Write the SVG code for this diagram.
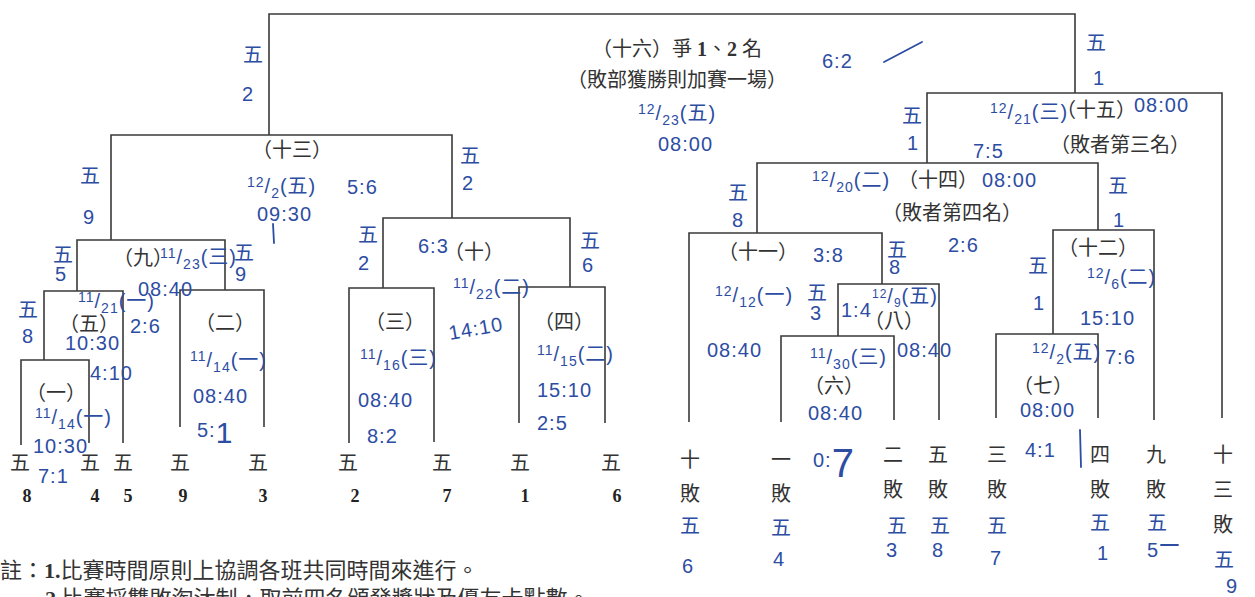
<svg xmlns="http://www.w3.org/2000/svg" width="1255" height="597" viewBox="0 0 1255 597">
<style>
.ln{fill:none;stroke:#3a3a3a;stroke-width:1.6}
.pt{font-family:"Liberation Serif","Noto Sans CJK TC",serif;font-size:20px;fill:#333}
.c{text-anchor:middle}
.num{font-family:"Liberation Serif",serif;font-weight:bold;font-size:18px;fill:#222;text-anchor:middle}
.hw{font-family:"Liberation Sans","Noto Sans CJK TC",sans-serif;fill:#2d4da3;font-size:20px;letter-spacing:1px}
.n{font-size:14px}
.hs{fill:none;stroke:#2d4da3;stroke-width:1.8;stroke-linecap:round}
.note{font-family:"Liberation Serif","Noto Sans CJK TC",serif;font-size:22px;fill:#333}
</style>
<rect width="1255" height="597" fill="#fff"/>

<g id="connectors">
<path class="ln" d="M269,135V14H1075V93"/>
<path class="ln" d="M111,240V135H452V218"/>
<path class="ln" d="M77,291V240H225V290"/>
<path class="ln" d="M44,360V291H123V443"/>
<path class="ln" d="M21,445V360H89V443"/>
<path class="ln" d="M180,427V290H264V427"/>
<path class="ln" d="M383,288V218H570V287"/>
<path class="ln" d="M349,443V288H434V442"/>
<path class="ln" d="M519,423V287H605V423"/>
<path class="ln" d="M927,163V93H1222V418"/>
<path class="ln" d="M757,233V163H1098V230"/>
<path class="ln" d="M689,422V233H882V284"/>
<path class="ln" d="M838,336V284H939V420"/>
<path class="ln" d="M781,422V336H894V420"/>
<path class="ln" d="M1053,334V230H1154V420"/>
<path class="ln" d="M996,418V334H1098V418"/>
</g>

<g id="m16">
<text class="pt c" x="677" y="56">（十六）爭 <tspan font-family="Liberation Serif" font-weight="bold">1</tspan>、<tspan font-family="Liberation Serif" font-weight="bold">2</tspan> 名</text>
<text class="pt c" x="677" y="87">（敗部獲勝則加賽一場）</text>
<text class="hw" x="638" y="120"><tspan class="n" dy="-6">12</tspan><tspan dy="6">/</tspan><tspan class="n" dy="5">23</tspan><tspan dy="-5">(五)</tspan></text>
<text class="hw" x="658" y="151">08:00</text>
<text class="hw" x="822" y="68" font-size="30">6:2</text>
<path class="hs" d="M884,62L922,42"/>
<text class="hw" x="243" y="62" font-size="22">五</text>
<text class="hw" x="242" y="101" font-size="22">2</text>
<text class="hw" x="1086" y="50" font-size="24">五</text>
<text class="hw" x="1093" y="85" font-size="24">1</text>
</g>

<g id="m15">
<text class="pt c" x="1096" y="117">（十五）</text>
<text class="pt c" x="1120" y="152">（敗者第三名）</text>
<text class="hw" x="990" y="119" font-size="18"><tspan class="n" dy="-6">12</tspan><tspan dy="6">/</tspan><tspan class="n" dy="5">21</tspan><tspan dy="-5">(三)</tspan></text>
<text class="hw" x="1134" y="112">08:00</text>
<text class="hw" x="973" y="158" font-size="24">7:5</text>
<text class="hw" x="902" y="123" font-size="22">五</text>
<text class="hw" x="907" y="150" font-size="22">1</text>
</g>

<g id="m14">
<text class="pt c" x="938" y="187">（十四）</text>
<text class="pt c" x="952" y="220">（敗者第四名）</text>
<text class="hw" x="812" y="187"><tspan class="n" dy="-6">12</tspan><tspan dy="6">/</tspan><tspan class="n" dy="5">20</tspan><tspan dy="-5">(二)</tspan></text>
<text class="hw" x="982" y="187" font-size="22">08:00</text>
<text class="hw" x="948" y="252" font-size="24">2:6</text>
<text class="hw" x="728" y="200" font-size="22">五</text>
<text class="hw" x="732" y="227" font-size="24">8</text>
<text class="hw" x="1108" y="193" font-size="22">五</text>
<text class="hw" x="1113" y="227" font-size="22">1</text>
</g>

<g id="m13">
<text class="pt c" x="292" y="157">（十三）</text>
<text class="hw" x="247" y="193"><tspan class="n" dy="-6">12</tspan><tspan dy="6">/</tspan><tspan class="n" dy="5">2</tspan><tspan dy="-5">(五)</tspan></text>
<text class="hw" x="347" y="194" font-size="28">5:6</text>
<text class="hw" x="257" y="221" font-size="22">09:30</text>
<path class="hs" d="M273,224L274,243"/>
<text class="hw" x="80" y="183" font-size="26">五</text>
<text class="hw" x="83" y="224" font-size="32">9</text>
<text class="hw" x="460" y="163" font-size="22">五</text>
<text class="hw" x="462" y="190" font-size="22">2</text>
</g>

<g id="m12">
<text class="pt c" x="1098" y="255">（十二）</text>
<text class="hw" x="1087" y="284"><tspan class="n" dy="-6">12</tspan><tspan dy="6">/</tspan><tspan class="n" dy="5">6</tspan><tspan dy="-5">(二)</tspan></text>
<text class="hw" x="1080" y="325">15:10</text>
<text class="hw" x="1105" y="364" font-size="24">7:6</text>
<text class="hw" x="1028" y="273" font-size="22">五</text>
<text class="hw" x="1033" y="310" font-size="24">1</text>
</g>

<g id="m11">
<text class="pt c" x="758" y="259">（十一）</text>
<text class="hw" x="813" y="262" font-size="26">3:8</text>
<text class="hw" x="715" y="302"><tspan class="n" dy="-6">12</tspan><tspan dy="6">/</tspan><tspan class="n" dy="5">12</tspan><tspan dy="-5">(一)</tspan></text>
<text class="hw" x="807" y="300" font-size="18">五</text>
<text class="hw" x="810" y="320" font-size="18">3</text>
<text class="hw" x="707" y="357" font-size="22">08:40</text>
<text class="hw" x="887" y="257" font-size="18">五</text>
<text class="hw" x="889" y="274" font-size="18">8</text>
</g>

<g id="m10">
<text class="pt c" x="474" y="259">（十）</text>
<text class="hw" x="418" y="253" font-size="22">6:3</text>
<text class="hw" x="453" y="294"><tspan class="n" dy="-6">11</tspan><tspan dy="6">/</tspan><tspan class="n" dy="5">22</tspan><tspan dy="-5">(二)</tspan></text>
<text class="hw" x="450" y="340" transform="rotate(-10 450 340)">14:10</text>
<text class="hw" x="358" y="242" font-size="18">五</text>
<text class="hw" x="358" y="270" font-size="22">2</text>
<text class="hw" x="580" y="248" font-size="18">五</text>
<text class="hw" x="582" y="272" font-size="20">6</text>
</g>

<g id="m9">
<text class="pt c" x="143" y="265">（九）</text>
<text class="hw" x="160" y="264" font-size="18"><tspan class="n" dy="-6">11</tspan><tspan dy="6">/</tspan><tspan class="n" dy="5">23</tspan><tspan dy="-5">(三)</tspan></text>
<text class="hw" x="138" y="296">08:40</text>
<text class="hw" x="130" y="333" font-size="22">2:6</text>
<text class="hw" x="53" y="262">五</text>
<text class="hw" x="55" y="281">5</text>
<text class="hw" x="234" y="260">五</text>
<text class="hw" x="235" y="281" font-size="22">9</text>
</g>

<g id="m8">
<text class="pt c" x="894" y="328">（八）</text>
<text class="hw" x="841" y="317" font-size="18">1:4</text>
<text class="hw" x="872" y="303" font-size="17"><tspan font-size="12" dy="-5">12</tspan><tspan dy="5">/</tspan><tspan font-size="12" dy="4">9</tspan><tspan dy="-4">(五)</tspan></text>
<text class="hw" x="897" y="357" font-size="18">08:40</text>
</g>

<g id="m7">
<text class="pt c" x="1043" y="393">（七）</text>
<text class="hw" x="1032" y="359"><tspan class="n" dy="-6">12</tspan><tspan dy="6">/</tspan><tspan class="n" dy="5">2</tspan><tspan dy="-5">(五)</tspan></text>
<text class="hw" x="1020" y="417" font-size="21">08:00</text>
<text class="hw" x="1025" y="457" font-size="22">4:1</text>
<path class="hs" d="M1080,430L1081,467"/>
</g>

<g id="m6">
<text class="pt c" x="834" y="393">（六）</text>
<text class="hw" x="810" y="364"><tspan class="n" dy="-6">11</tspan><tspan dy="6">/</tspan><tspan class="n" dy="5">30</tspan><tspan dy="-5">(三)</tspan></text>
<text class="hw" x="808" y="420">08:40</text>
<text class="hw" x="813" y="467" font-size="22">0:<tspan font-size="40" dy="10">7</tspan></text>
</g>

<g id="m5">
<text class="pt c" x="89" y="331">（五）</text>
<text class="hw" x="78" y="308"><tspan class="n" dy="-6">11</tspan><tspan dy="6">/</tspan><tspan class="n" dy="5">21</tspan><tspan dy="-5">(一)</tspan></text>
<text class="hw" x="65" y="350" font-size="18">10:30</text>
<text class="hw" x="90" y="380" font-size="18">4:10</text>
<text class="hw" x="18" y="317" font-size="22">五</text>
<text class="hw" x="22" y="343" font-size="24">8</text>
</g>

<g id="m4">
<text class="pt c" x="564" y="329">（四）</text>
<text class="hw" x="537" y="361"><tspan class="n" dy="-6">11</tspan><tspan dy="6">/</tspan><tspan class="n" dy="5">15</tspan><tspan dy="-5">(二)</tspan></text>
<text class="hw" x="537" y="397">15:10</text>
<text class="hw" x="537" y="430" font-size="22">2:5</text>
</g>

<g id="m3">
<text class="pt c" x="395" y="329">（三）</text>
<text class="hw" x="360" y="365"><tspan class="n" dy="-6">11</tspan><tspan dy="6">/</tspan><tspan class="n" dy="5">16</tspan><tspan dy="-5">(三)</tspan></text>
<text class="hw" x="358" y="407" font-size="22">08:40</text>
<text class="hw" x="367" y="443" font-size="24">8:2</text>
</g>

<g id="m2">
<text class="pt c" x="225" y="330">（二）</text>
<text class="hw" x="190" y="367"><tspan class="n" dy="-6">11</tspan><tspan dy="6">/</tspan><tspan class="n" dy="5">14</tspan><tspan dy="-5">(一)</tspan></text>
<text class="hw" x="193" y="403" font-size="22">08:40</text>
<text class="hw" x="197" y="437" font-size="22">5:<tspan font-size="30" dy="6">1</tspan></text>
</g>

<g id="m1">
<text class="pt c" x="56" y="400">（一）</text>
<text class="hw" x="35" y="424"><tspan class="n" dy="-6">11</tspan><tspan dy="6">/</tspan><tspan class="n" dy="5">14</tspan><tspan dy="-5">(一)</tspan></text>
<text class="hw" x="33" y="453" font-size="17">10:30</text>
<text class="hw" x="38" y="483" font-size="22">7:1</text>
</g>

<g id="teams-winners">
<g id="t-w8"><text class="pt c" x="20" y="470">五</text><text class="num" x="27" y="502">8</text></g>
<g id="t-w4"><text class="pt c" x="90" y="470">五</text><text class="num" x="95" y="502">4</text></g>
<g id="t-w5"><text class="pt c" x="123" y="470">五</text><text class="num" x="128" y="502">5</text></g>
<g id="t-w9"><text class="pt c" x="180" y="470">五</text><text class="num" x="183" y="502">9</text></g>
<g id="t-w3"><text class="pt c" x="258" y="470">五</text><text class="num" x="263" y="502">3</text></g>
<g id="t-w2"><text class="pt c" x="348" y="470">五</text><text class="num" x="355" y="502">2</text></g>
<g id="t-w7"><text class="pt c" x="442" y="470">五</text><text class="num" x="447" y="502">7</text></g>
<g id="t-w1"><text class="pt c" x="520" y="470">五</text><text class="num" x="525" y="502">1</text></g>
<g id="t-w6"><text class="pt c" x="611" y="470">五</text><text class="num" x="617" y="502">6</text></g>
</g>

<g id="teams-losers">
<g id="t-l10"><text class="pt c" x="690" y="467">十</text><text class="pt c" x="690" y="501">敗</text>
<text class="hw" x="680" y="533" font-size="22">五</text><text class="hw" x="682" y="573" font-size="24">6</text></g>
<g id="t-l1"><text class="pt c" x="781" y="467">一</text><text class="pt c" x="781" y="501">敗</text>
<text class="hw" x="771" y="535" font-size="22">五</text><text class="hw" x="773" y="566" font-size="22">4</text></g>
<g id="t-l2"><text class="pt c" x="893" y="462">二</text><text class="pt c" x="893" y="497">敗</text>
<text class="hw" x="887" y="533" font-size="22">五</text><text class="hw" x="886" y="557" font-size="22">3</text></g>
<g id="t-l5"><text class="pt c" x="938" y="462">五</text><text class="pt c" x="938" y="497">敗</text>
<text class="hw" x="930" y="533" font-size="22">五</text><text class="hw" x="932" y="557" font-size="22">8</text></g>
<g id="t-l3"><text class="pt c" x="997" y="462">三</text><text class="pt c" x="997" y="497">敗</text>
<text class="hw" x="987" y="533" font-size="22">五</text><text class="hw" x="990" y="565" font-size="26">7</text></g>
<g id="t-l4"><text class="pt c" x="1100" y="462">四</text><text class="pt c" x="1100" y="497">敗</text>
<text class="hw" x="1090" y="530" font-size="22">五</text><text class="hw" x="1097" y="560" font-size="24">1</text></g>
<g id="t-l9"><text class="pt c" x="1156" y="462">九</text><text class="pt c" x="1156" y="497">敗</text>
<text class="hw" x="1147" y="530" font-size="22">五</text><text class="hw" x="1147" y="557" font-size="22">5</text>
<path class="hs" d="M1161,545L1178,545"/></g>
<g id="t-l13"><text class="pt c" x="1223" y="462">十</text><text class="pt c" x="1223" y="497">三</text><text class="pt c" x="1223" y="532">敗</text>
<text class="hw" x="1214" y="567" font-size="24">五</text><text class="hw" x="1226" y="593" font-size="22">9</text></g>
</g>

<g id="notes">
<text class="note" x="0" y="578">註：<tspan font-family="Liberation Serif" font-weight="bold">1.</tspan>比賽時間原則上協調各班共同時間來進行。</text>
<text class="note" x="45" y="606"><tspan font-family="Liberation Serif" font-weight="bold">2.</tspan>比賽採雙敗淘汰制，取前四名頒發獎狀及優友卡點數。</text>
</g>
</svg>
